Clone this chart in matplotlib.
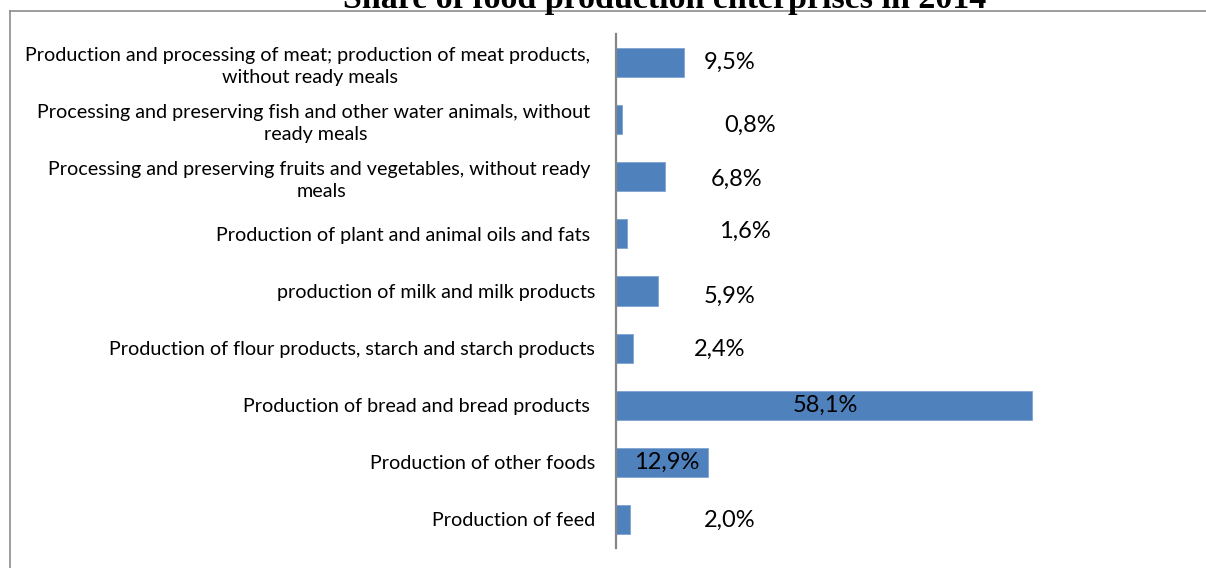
import matplotlib
matplotlib.use("Agg")
import matplotlib.pyplot as plt
from matplotlib.lines import Line2D

categories = [
    "Production and processing of meat; production of meat products, \nwithout ready meals",
    "Processing and preserving fish and other water animals, without \nready meals",
    "Processing and preserving fruits and vegetables, without ready \nmeals",
    "Production of plant and animal oils and fats ",
    "production of milk and milk products",
    "Production of flour products, starch and starch products",
    "Production of bread and bread products ",
    "Production of other foods",
    "Production of feed",
]
shares = [9.5, 0.8, 6.8, 1.6, 5.9, 2.4, 58.1, 12.9, 2.0]
title = "Share of food production enterprises in 2014"

# where Excel left each data label (x in data units, y shift in points)
label_x = [15.9, 18.7, 16.9, 18.0, 15.9, 14.5, 29.2, 7.1, 15.9]
label_dy = [0, -4, -2, 2, -4, -1, 0, 0, -1]

plt.rcParams['font.family'] = ['Lato', 'DejaVu Sans']

fig = plt.figure(figsize=(12.06, 5.68), dpi=100)
ax = fig.add_axes([616 / 1206, 1 - 548 / 568, (70 * 7.16) / 1206, (548 - 34) / 568])

ypos = list(range(len(categories)))
ax.barh(ypos, shares, height=0.51, color='#4F81BD', edgecolor='#7EA3D3', linewidth=0.6)
ax.set_ylim(len(categories) - 0.5, -0.5)
ax.set_xlim(0, 70)

ax.set_yticks(ypos)
ax.set_yticklabels(categories, fontsize=14.2, multialignment='center', linespacing=1.35)
ax.tick_params(axis='y', length=0, pad=15)
ax.tick_params(axis='x', bottom=False, labelbottom=False)

for s in ['top', 'right', 'bottom']:
    ax.spines[s].set_visible(False)
ax.spines['left'].set_color('#868686')
ax.spines['left'].set_linewidth(1.6)

for i, v in enumerate(shares):
    ax.annotate(f"{v:.1f}".replace('.', ',') + "%", (label_x[i], i),
                xytext=(0, label_dy[i]), textcoords='offset points',
                ha='center', va='center', fontsize=17, color='black')

# outer chart frame (only top and left edges fall inside the picture)
fig.add_artist(Line2D([10 / 1206, 1.0], [1 - 11 / 568, 1 - 11 / 568],
                      transform=fig.transFigure, color='#8C8C8C', linewidth=1.2))
fig.add_artist(Line2D([10 / 1206, 10 / 1206], [1 - 11 / 568, 0.0],
                      transform=fig.transFigure, color='#8C8C8C', linewidth=1.2))

fig.text(665 / 1206, 1 - 8 / 568, title, ha='center', va='baseline',
         fontsize=24.5, fontweight='bold', family=['Liberation Serif', 'DejaVu Serif'])

fig.savefig("out.png", dpi=100)
